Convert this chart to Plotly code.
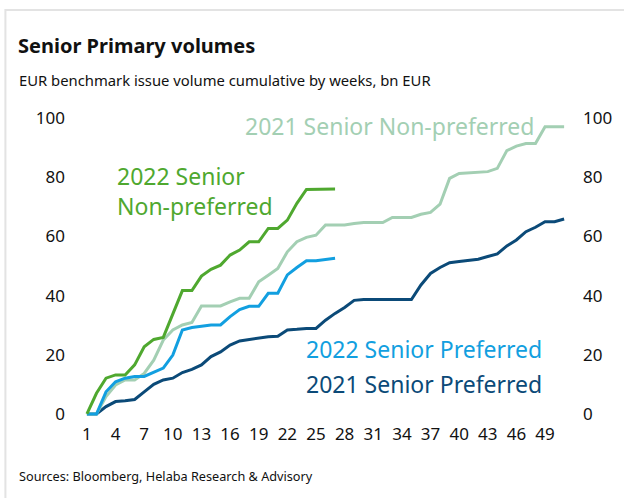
import plotly.graph_objects as go

# Cumulative EUR benchmark senior issuance by calendar week, bn EUR
weeks_2021 = list(range(1, 52))
weeks_2022 = list(range(1, 28))

snp_2022 = [0, 7.0, 12.1, 13.2, 13.2, 16.6, 22.7, 25.2, 25.9, 34.0, 41.7, 41.7, 46.6,
            48.9, 50.3, 53.7, 55.4, 58.2, 58.2, 62.7, 62.7, 65.5, 71.2, 75.9, 75.9,
            76.0, 76.0]
sp_2022 = [0, 0, 7.5, 10.9, 12.1, 12.7, 12.7, 14.0, 15.5, 19.9, 28.4, 29.2, 29.7,
           30.1, 30.1, 32.9, 35.3, 36.4, 36.4, 40.8, 40.8, 47.0, 49.5, 51.8, 51.8,
           52.2, 52.6]
snp_2021 = [0, 0, 5.9, 9.8, 11.5, 11.5, 13.7, 18.2, 25.0, 28.4, 30.1, 30.9, 36.5,
            36.5, 36.5, 37.9, 39.1, 39.1, 44.7, 46.9, 49.2, 54.8, 58.2, 59.7, 60.4,
            63.9, 63.9, 63.9, 64.4, 64.7, 64.7, 64.7, 66.4, 66.4, 66.4, 67.5, 68.1,
            70.9, 79.6, 81.3, 81.5, 81.9, 81.9, 83.0, 89.0, 90.5, 91.4, 91.4, 97.1,
            97.1, 97.1]
sp_2021 = [0, 0, 2.5, 4.2, 4.5, 4.9, 7.5, 10.0, 11.5, 12.1, 14.0, 15.1, 16.6, 19.4,
           21.0, 23.3, 24.7, 25.2, 25.5, 26.1, 26.3, 28.4, 28.6, 28.9, 28.9, 31.7,
           34.0, 36.0, 38.4, 38.7, 38.7, 38.7, 38.7, 38.7, 38.7, 43.6, 47.5, 49.5,
           51.1, 51.5, 52.0, 52.3, 53.2, 54.1, 56.8, 58.8, 61.6, 63.1, 65.0, 65.0,
           65.9]

week_ticks = list(range(1, 50, 3))
value_ticks = [0, 20, 40, 60, 80, 100]

C_SNP22 = "#4fa82f"
C_SNP21 = "#a3cfb3"
C_SP22 = "#129fe0"
C_SP21 = "#0b4a78"

FONT = "Noto Sans"
TICK_FONT = dict(family=FONT, size=17, color="#111111")

fig = go.Figure()
series = [
    (weeks_2021, sp_2021, C_SP21),
    (weeks_2021, snp_2021, C_SNP21),
    (weeks_2022, sp_2022, C_SP22),
    (weeks_2022, snp_2022, C_SNP22),
]
for xs, ys, col in series:
    fig.add_trace(go.Scatter(x=xs, y=ys, mode="lines",
                             line=dict(color=col, width=3),
                             showlegend=False, hoverinfo="skip"))

y_range = [-2.03, 103.4]
fig.update_layout(
    width=624, height=498,
    margin=dict(l=75, r=44, t=108, b=78),
    paper_bgcolor="white", plot_bgcolor="white",
    font=dict(family=FONT, color="#111111"),
    xaxis=dict(range=[-0.25, 52.35], tickvals=week_ticks,
               ticktext=[str(w) for w in week_ticks],
               showgrid=False, zeroline=False, showline=False,
               tickfont=TICK_FONT, ticks="", ticklabelstandoff=2),
    yaxis=dict(range=y_range, tickvals=value_ticks, showgrid=False,
               zeroline=False, showline=False, ticks="",
               tickfont=TICK_FONT, ticklabelstandoff=9),
    yaxis2=dict(range=y_range, tickvals=value_ticks, overlaying="y",
                side="right", showgrid=False, zeroline=False, showline=False,
                ticks="", tickfont=TICK_FONT, ticklabelstandoff=5),
)

# Invisible trace so the right-hand value axis is drawn
fig.add_trace(go.Scatter(x=[1], y=[0], yaxis="y2", mode="lines",
                         line=dict(width=0), showlegend=False, hoverinfo="skip"))

# Frame around the chart
fig.add_shape(type="rect", xref="paper", yref="paper",
              x0=-70 / 505, x1=1.2, y0=-0.5, y1=1 + 98 / 312,
              line=dict(color="#e3e3e3", width=2), layer="below")

def text(x, y, s, size, color, bold=False, anchor="left"):
    fig.add_annotation(xref="paper", yref="paper",
                       x=(x - 75) / 505, y=(420 - y) / 312,
                       text=f"<b>{s}</b>" if bold else s, showarrow=False,
                       xanchor=anchor, yanchor="middle",
                       font=dict(family=FONT, size=size, color=color),
                       align="left")

text(16, 45, "Senior Primary volumes", 20, "#111111", bold=True)
text(17, 80, "EUR benchmark issue volume cumulative by weeks, bn EUR", 14.8, "#111111")
text(17, 476, "Sources: Bloomberg, Helaba Research & Advisory", 12.7, "#111111")

text(244, 126, "2021 Senior Non-preferred", 23, C_SNP21)
text(115, 191, "2022 Senior<br>Non-preferred", 23, C_SNP22)
text(305, 349, "2022 Senior Preferred", 23, C_SP22)
text(305, 384, "2021 Senior Preferred", 23, C_SP21)

fig.write_html("out.html")
